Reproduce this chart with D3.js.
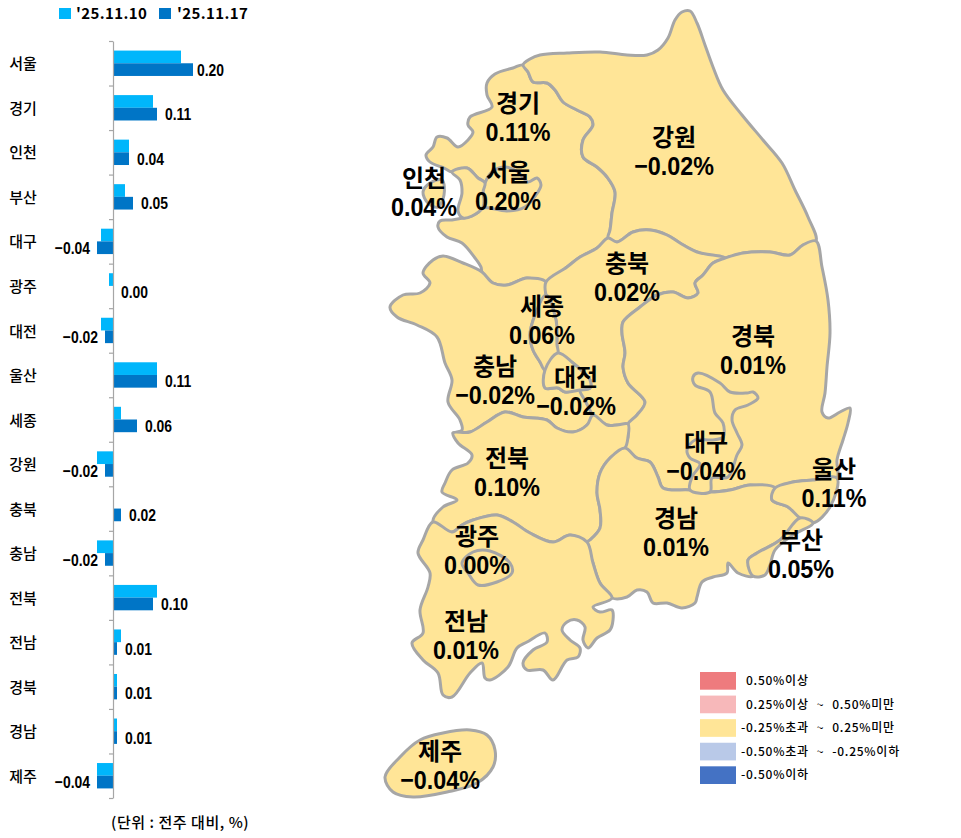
<!DOCTYPE html>
<html>
<head>
<meta charset="utf-8">
<style>
  html, body { margin: 0; padding: 0; background: #fff; }
  svg { display: block; }
  text { font-family: "Noto Sans CJK KR", sans-serif; fill: #000; }
  .num { font-family: "Liberation Sans", sans-serif; font-weight: bold; }
  .region { font-family: "Liberation Sans", "Noto Sans CJK KR", sans-serif; font-weight: bold; }
</style>
<script src="https://cdn.jsdelivr.net/npm/d3@7"></script>
</head>
<body>
<svg id="chart" width="961" height="838"></svg>
<script>
// data
var categories = ['서울', '경기', '인천', '부산', '대구', '광주', '대전', '울산', '세종', '강원', '충북', '충남', '전북', '전남', '경북', '경남', '제주'];
var lastWeek = [0.17, 0.10, 0.04, 0.03, -0.03, -0.01, -0.03, 0.11, 0.02, -0.04, 0.00, -0.04, 0.11, 0.02, 0.01, 0.01, -0.04];
var thisWeek = [0.20, 0.11, 0.04, 0.05, -0.04, 0.00, -0.02, 0.11, 0.06, -0.02, 0.02, -0.02, 0.10, 0.01, 0.01, 0.01, -0.04];
var seriesNames = ["'25.11.10", "'25.11.17"];
var seriesColors = ['#00b6fb', '#0075c6'];
var legendLabels = ['0.50%이상', '0.25%이상 ~ 0.50%미만', '-0.25%초과 ~ 0.25%미만', '-0.50%초과 ~ -0.25%이하', '-0.50%이하'];
var legendColors = ['#ee7b7e', '#f7b8ba', '#ffe597', '#b9c9e8', '#4472c4'];
var legendBreaks = [-0.5, -0.25, 0.25, 0.5];
var unitNote = '(단위 : 전주 대비, %)';

// map outline: shared borders, so that neighbours use the same line
var arcs = {
  gwCoast: [[523,65],[530,59],[540,55],[567,53],[600,52],[627,55],[647,55],[658,50],[668,38],[675,20],[682,12],[690,11],[697,23],[705,45],[713,67],[723,90],[742,115],[763,140],[782,163],[795,190],[808,217],[816,241]],
  gwGg: [[523,65],[528,72],[533,82],[547,83],[555,90],[563,102],[577,110],[590,117],[593,125],[583,140],[583,157],[597,167],[607,177],[615,192],[612,213],[610,230],[608,238]],
  gwCb: [[608,238],[617,242],[633,232],[650,230],[667,235],[680,243],[697,252],[725,258]],
  gwGb: [[725,258],[743,253],[770,252],[790,255],[803,245],[816,241]],
  ggCoastN: [[523,65],[513,68],[495,74],[487,83],[487,95],[492,107],[470,117],[468,125],[473,132],[468,140],[458,147],[447,138],[437,137],[433,147],[426,155],[430,162],[444,168],[452,172]],
  ggIcA: [[452,172],[467,168],[478,178],[485,183]],
  icSeoul: [[485,183],[483,192],[484,200],[483,207]],
  ggIcB: [[483,207],[472,216],[463,218]],
  icInlet: [[463,218],[458,211],[462,193],[460,180],[452,172]],
  ggCoastS: [[463,218],[452,220],[440,221],[438,227],[447,237],[462,243],[475,258],[481,267],[482,272]],
  seoulRim: [[485,183],[492,172],[505,167],[518,172],[528,182],[537,178],[541,185],[536,195],[525,207],[507,211],[490,208],[483,207]],
  icIsland: [[442,180],[444,195],[438,207],[428,203],[423,192],[430,183]],
  ggCb: [[608,238],[597,248],[580,257],[567,267],[546,282]],
  ggCn: [[546,282],[527,278],[507,285],[493,283],[482,272]],
  cCS: [[546,282],[546,295]],
  cnCoast: [[482,272],[463,263],[443,256],[433,260],[423,273],[430,283],[420,293],[403,295],[390,307],[397,317],[417,325],[437,337],[445,363],[452,380],[448,402],[460,420],[462,430],[453,433]],
  cnJb: [[453,433],[470,432],[487,422],[505,412],[523,417],[547,420],[557,428],[573,432],[587,425],[593,415]],
  sjWest: [[546,295],[535,315],[530,335],[533,350],[540,362],[545,370]],
  sjEast: [[546,295],[556,320],[557,345],[558,353]],
  sjDj: [[545,370],[558,353]],
  djCn: [[545,370],[545,388],[558,388],[565,392],[580,390]],
  djCb: [[558,353],[573,363],[583,372],[590,380],[590,388],[580,390]],
  cnCb: [[580,390],[586,402],[593,415]],
  cbJb: [[593,415],[607,425],[617,425],[628,424]],
  cbGb: [[725,258],[713,263],[703,275],[695,283],[698,293],[688,298],[673,292],[657,295],[640,307],[623,322],[622,333],[625,353],[623,367],[628,383],[645,402],[637,415],[628,424]],
  jbGb: [[628,424],[628,437],[625,448]],
  gbCoast: [[816,241],[822,267],[828,300],[830,333],[827,367],[825,393],[822,412],[828,418],[840,412],[850,408],[848,423],[843,440],[837,460],[837,478]],
  usGb: [[775,488],[793,482],[813,480],[837,478]],
  gnGb: [[625,448],[637,458],[650,462],[658,477],[663,488],[690,490],[710,492],[730,490],[750,485],[775,488]],
  gnUs: [[775,488],[772,500],[788,507],[800,518]],
  usBs: [[800,518],[813,523]],
  usCoast: [[837,478],[830,507],[813,523]],
  bsCoast: [[813,523],[793,535],[775,550],[770,565],[765,575],[753,576]],
  gnBs: [[800,518],[780,540],[757,553],[748,560],[753,576]],
  gnCoast: [[753,576],[738,573],[728,563],[727,573],[713,577],[702,582],[697,597],[695,603],[682,608],[667,603],[653,603],[647,592],[637,590],[627,597],[612,598]],
  jnGn: [[587,542],[593,563],[600,583],[612,598]],
  jbGn: [[625,448],[610,458],[600,473],[597,493],[600,510],[600,528],[590,540],[587,542]],
  jbJn: [[433,522],[452,532],[462,525],[473,520],[497,515],[513,522],[530,533],[553,542],[570,535],[587,542]],
  jbCoast: [[453,433],[458,443],[472,455],[468,463],[452,470],[445,483],[442,492],[457,500],[443,507],[433,522]],
  jnCoast: [[612,598],[593,607],[600,612],[612,610],[613,620],[610,630],[597,638],[588,648],[583,640],[585,627],[577,620],[567,622],[562,630],[570,640],[580,648],[578,657],[567,660],[553,680],[543,670],[527,670],[523,663],[533,650],[547,642],[545,633],[527,642],[517,648],[508,667],[490,680],[485,678],[482,663],[470,673],[452,697],[443,695],[438,673],[423,660],[412,643],[423,633],[420,610],[428,587],[430,573],[418,553],[423,540],[433,522]],
  gjRim: [[462,563],[473,552],[490,551],[510,563],[512,573],[497,582],[478,585],[468,573]],
  dgRim: [[690,490],[692,477],[700,464],[690,458],[687,450],[695,440],[712,440],[723,437],[723,423],[715,413],[710,392],[695,385],[693,377],[698,373],[720,383],[730,392],[747,393],[753,392],[758,398],[748,405],[735,410],[732,420],[737,433],[742,445],[737,455],[728,477],[712,478],[710,492]],
  jejuRim: [[385,777],[400,757],[420,740],[443,733],[470,730],[487,735],[495,750],[493,767],[477,783],[447,792],[413,797],[393,792]]
};

// each region: one or more rings made of arcs ('-' walks an arc backwards)
var regionRings = [
  ['경기', [['ggCoastN', 'ggIcA', 'icSeoul', 'ggIcB', 'ggCoastS', '-ggCn', '-ggCb', '-gwGg']]],
  ['강원', [['gwCoast', '-gwGb', '-gwCb', '-gwGg']]],
  ['충남', [['cnCoast', 'cnJb', '-cnCb', '-djCn', '-sjWest', '-cCS', 'ggCn']]],
  ['충북', [['gwCb', 'cbGb', '-cbJb', '-cnCb', '-djCb', '-sjEast', '-cCS', '-ggCb']]],
  ['경북', [['gwGb', 'gbCoast', '-usGb', '-gnGb', '-jbGb', '-cbGb']]],
  ['전북', [['jbCoast', 'jbJn', '-jbGn', '-jbGb', '-cbJb', '-cnJb']]],
  ['경남', [['gnGb', 'gnUs', 'gnBs', 'gnCoast', '-jnGn', '-jbGn']]],
  ['울산', [['usGb', 'usCoast', '-usBs', '-gnUs']]],
  ['부산', [['usBs', 'bsCoast', '-gnBs']]],
  ['전남', [['jbJn', 'jnGn', 'jnCoast']]],
  ['서울', [['seoulRim', '-icSeoul']]],
  ['인천', [['ggIcA', 'icSeoul', 'ggIcB', 'icInlet'], ['icIsland']]],
  ['세종', [['sjWest', 'sjDj', '-sjEast']]],
  ['대전', [['sjDj', 'djCb', '-djCn']]],
  ['대구', [['dgRim']]],
  ['광주', [['gjRim']]],
  ['제주', [['jejuRim']]]
];

// where the two text lines of each region sit
var mapLabelSpot = {
  '경기': [518, 102], '강원': [674, 136], '인천': [424, 177], '서울': [508, 171],
  '충북': [627, 262], '세종': [542, 305], '충남': [495, 365], '대전': [576, 376],
  '경북': [753, 335], '대구': [706, 441], '전북': [507, 457], '울산': [834, 468],
  '경남': [676, 517], '광주': [477, 535], '부산': [801, 539], '전남': [466, 620],
  '제주': [440, 750]
};

var svg = d3.select('#chart');
var fmt = d3.format('.2f');
var lookup = function (name) { return thisWeek[categories.indexOf(name)]; };

// ----- bars -----
var y = d3.scaleBand().domain(categories).range([41, 798]).paddingInner(0.43).paddingOuter(0.215);
var ySeries = d3.scaleBand().domain([0, 1]).range([0, y.bandwidth()]);
var x = d3.scaleLinear().domain([-0.1, 0.2]).range([73, 193]);

var rows = svg.append('g').selectAll('g').data(categories).enter().append('g')
  .attr('transform', function (d) { return 'translate(0,' + y(d) + ')'; });

[lastWeek, thisWeek].forEach(function (values, s) {
  rows.append('rect')
    .attr('x', function (d, i) { return Math.min(x(0), x(values[i])); })
    .attr('y', ySeries(s))
    .attr('width', function (d, i) { return Math.abs(x(values[i]) - x(0)); })
    .attr('height', ySeries.bandwidth())
    .attr('fill', seriesColors[s]);
});

// the numbers in the picture are condensed, no narrow font here so squeeze them
var topValue = d3.max(thisWeek);
rows.append('text')
  .attr('class', 'num')
  .attr('transform', function (d, i) {
    var v = thisWeek[i];
    var px = v < 0 ? x(v) - 7 : x(v) + (v === topValue ? 4 : 8);
    return 'translate(' + px + ',' + (ySeries(1) + ySeries.bandwidth() / 2) + ') scale(0.82,1)';
  })
  .attr('dy', '0.36em')
  .attr('text-anchor', function (d, i) { return thisWeek[i] < 0 ? 'end' : 'start'; })
  .style('font-size', '17px')
  .text(function (d, i) { return fmt(thisWeek[i]); });

// axis line with ticks between the categories
var yTicks = d3.scaleLinear().domain([0, categories.length]).range([41, 798]);
var axis = svg.append('g').attr('transform', 'translate(' + x(0) + ',0)')
  .call(d3.axisLeft(yTicks).tickValues(d3.range(categories.length + 1)).tickSize(4).tickSizeOuter(0).tickFormat(''));
axis.selectAll('path,line').attr('stroke', '#a6a6a6').attr('stroke-width', 1.2);

rows.append('text')
  .attr('x', 23)
  .attr('y', y.bandwidth() / 2 + 1)
  .attr('dy', '0.34em')
  .attr('text-anchor', 'middle')
  .style('font-size', '15px')
  .style('font-weight', 500)
  .text(function (d) { return d; });

// top legend
var seriesSwatchX = [59, 159];
var seriesTextX = [76, 177];
seriesNames.forEach(function (name, s) {
  svg.append('rect').attr('x', seriesSwatchX[s]).attr('y', 8).attr('width', 12).attr('height', 11).attr('fill', seriesColors[s]);
  svg.append('text').attr('x', seriesTextX[s]).attr('y', 19)
    .style('font-size', '15px').style('font-weight', 'bold').style('letter-spacing', '0.4px')
    .text(name);
});

svg.append('text').attr('x', 111).attr('y', 828)
  .style('font-size', '15px').style('font-weight', 500).style('letter-spacing', '0.55px')
  .text(unitNote);

// ----- map -----
var color = d3.scaleThreshold().domain(legendBreaks).range(legendColors.slice().reverse());
var outline = d3.line().curve(d3.curveCatmullRomClosed.alpha(0.5));

function ringPoints(names) {
  var pts = [];
  names.forEach(function (n) {
    var back = n.charAt(0) === '-';
    var a = arcs[back ? n.slice(1) : n].slice();
    if (back) a.reverse();
    // junctions are shared, drop the repeated point
    pts = pts.concat(pts.length ? a.slice(1) : a);
  });
  var first = pts[0], last = pts[pts.length - 1];
  if (first[0] === last[0] && first[1] === last[1]) pts.pop();
  return pts;
}

svg.append('g').selectAll('path').data(regionRings).enter().append('path')
  .attr('d', function (d) {
    return d[1].map(function (r) { return outline(ringPoints(r)); }).join('');
  })
  .attr('fill', function (d) { return color(lookup(d[0])); })
  .attr('stroke', '#a6a6a6')
  .attr('stroke-width', 3)
  .attr('stroke-linejoin', 'round');

// name and value are one text with two lines, the value line squeezed like the bar labels
var mapLabels = svg.append('g').selectAll('text').data(regionRings).enter().append('text')
  .attr('transform', function (d) { return 'translate(' + mapLabelSpot[d[0]] + ')'; })
  .attr('text-anchor', 'middle');
mapLabels.append('tspan')
  .attr('class', 'region')
  .attr('x', 0)
  .attr('y', 9.5)
  .style('font-size', '24px')
  .text(function (d) { return d[0]; });
mapLabels.append('tspan')
  .attr('class', 'num')
  .attr('x', 0)
  .attr('y', 38.5)
  .style('font-size', '26.5px')
  .text(function (d) { return fmt(lookup(d[0])) + '%'; })
  .attr('lengthAdjust', 'spacingAndGlyphs')
  .attr('textLength', function () { return this.getComputedTextLength() * 0.88; });

// ----- map legend -----
var legendY = d3.scaleBand().domain(d3.range(legendLabels.length)).range([672, 784]).paddingInner(0.25).paddingOuter(0);
var legendTextX = [746, 746, 741, 741, 741];
legendLabels.forEach(function (label, i) {
  svg.append('rect').attr('x', 700).attr('y', legendY(i)).attr('width', 36).attr('height', legendY.bandwidth())
    .attr('fill', legendColors[i]);
  svg.append('text').attr('x', legendTextX[i]).attr('y', legendY(i) + legendY.bandwidth() / 2)
    .attr('dy', '0.35em')
    .style('font-size', '12px').style('font-weight', 500).style('letter-spacing', '0.75px').style('word-spacing', '4.5px')
    .text(label);
});
</script>
</body>
</html>
